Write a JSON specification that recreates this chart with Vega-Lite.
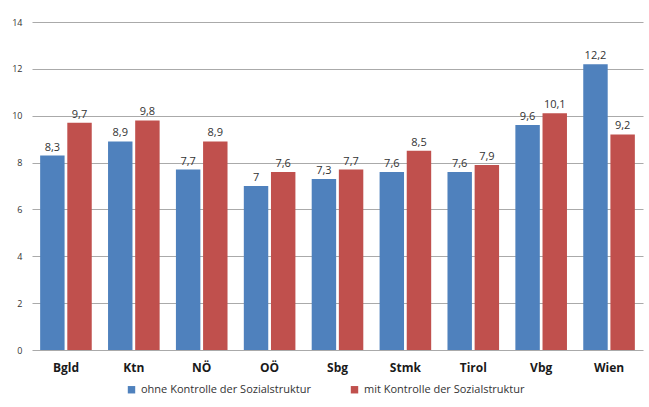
{
  "$schema": "https://vega.github.io/schema/vega-lite/v6.json",
  "width": 611,
  "height": 328,
  "autosize": "none",
  "padding": {"left": 32, "top": 22, "right": 6, "bottom": 57},
  "background": "white",
  "config": {
    "view": {"stroke": null},
    "font": "Open Sans",
    "locale": {"number": {"decimal": ",", "thousands": ".", "grouping": [3], "currency": ["", " €"]}}
  },
  "data": {
    "values": [
      {"land": "Bgld", "serie": "ohne Kontrolle der Sozialstruktur", "wert": 8.3},
      {"land": "Bgld", "serie": "mit Kontrolle der Sozialstruktur", "wert": 9.7},
      {"land": "Ktn", "serie": "ohne Kontrolle der Sozialstruktur", "wert": 8.9},
      {"land": "Ktn", "serie": "mit Kontrolle der Sozialstruktur", "wert": 9.8},
      {"land": "NÖ", "serie": "ohne Kontrolle der Sozialstruktur", "wert": 7.7},
      {"land": "NÖ", "serie": "mit Kontrolle der Sozialstruktur", "wert": 8.9},
      {"land": "OÖ", "serie": "ohne Kontrolle der Sozialstruktur", "wert": 7},
      {"land": "OÖ", "serie": "mit Kontrolle der Sozialstruktur", "wert": 7.6},
      {"land": "Sbg", "serie": "ohne Kontrolle der Sozialstruktur", "wert": 7.3},
      {"land": "Sbg", "serie": "mit Kontrolle der Sozialstruktur", "wert": 7.7},
      {"land": "Stmk", "serie": "ohne Kontrolle der Sozialstruktur", "wert": 7.6},
      {"land": "Stmk", "serie": "mit Kontrolle der Sozialstruktur", "wert": 8.5},
      {"land": "Tirol", "serie": "ohne Kontrolle der Sozialstruktur", "wert": 7.6},
      {"land": "Tirol", "serie": "mit Kontrolle der Sozialstruktur", "wert": 7.9},
      {"land": "Vbg", "serie": "ohne Kontrolle der Sozialstruktur", "wert": 9.6},
      {"land": "Vbg", "serie": "mit Kontrolle der Sozialstruktur", "wert": 10.1},
      {"land": "Wien", "serie": "ohne Kontrolle der Sozialstruktur", "wert": 12.2},
      {"land": "Wien", "serie": "mit Kontrolle der Sozialstruktur", "wert": 9.2}
    ]
  },
  "encoding": {
    "x": {
      "field": "land", "type": "nominal", "sort": null,
      "scale": {"paddingInner": 0.24, "paddingOuter": 0.12},
      "axis": {"title": null, "labelAngle": 0, "ticks": false, "domain": false, "labelFontWeight": "bold", "labelFontSize": 12, "labelColor": "#1a1a1a", "labelPadding": 12}
    },
    "xOffset": {
      "field": "serie", "type": "nominal",
      "sort": ["ohne Kontrolle der Sozialstruktur", "mit Kontrolle der Sozialstruktur"],
      "scale": {"paddingInner": 0.1}
    },
    "y": {
      "field": "wert", "type": "quantitative",
      "scale": {"domain": [0, 14]},
      "axis": {"title": null, "values": [0, 2, 4, 6, 8, 10, 12, 14], "ticks": false, "domain": false, "labelFontSize": 9, "labelColor": "#333333", "labelPadding": 10, "gridColor": "#aaaaaa", "gridWidth": 1.2}
    }
  },
  "layer": [
    {
      "mark": {"type": "bar"},
      "encoding": {
        "color": {
          "field": "serie", "type": "nominal",
          "sort": ["ohne Kontrolle der Sozialstruktur", "mit Kontrolle der Sozialstruktur"],
          "scale": {"domain": ["ohne Kontrolle der Sozialstruktur", "mit Kontrolle der Sozialstruktur"], "range": ["#4F81BD", "#C0504D"]},
          "legend": {"title": null, "orient": "none", "legendX": 94, "legendY": 362, "direction": "horizontal", "symbolType": "square", "symbolSize": 55, "labelFontSize": 11, "labelLimit": 0, "labelColor": "#333333", "columnPadding": 38, "symbolStrokeWidth": 0}
        }
      }
    },
    {
      "mark": {"type": "text", "dy": -8, "fontSize": 11, "color": "#333333"},
      "encoding": {
        "text": {"field": "wert", "type": "quantitative", "format": ".1~f"}
      }
    }
  ]
}
